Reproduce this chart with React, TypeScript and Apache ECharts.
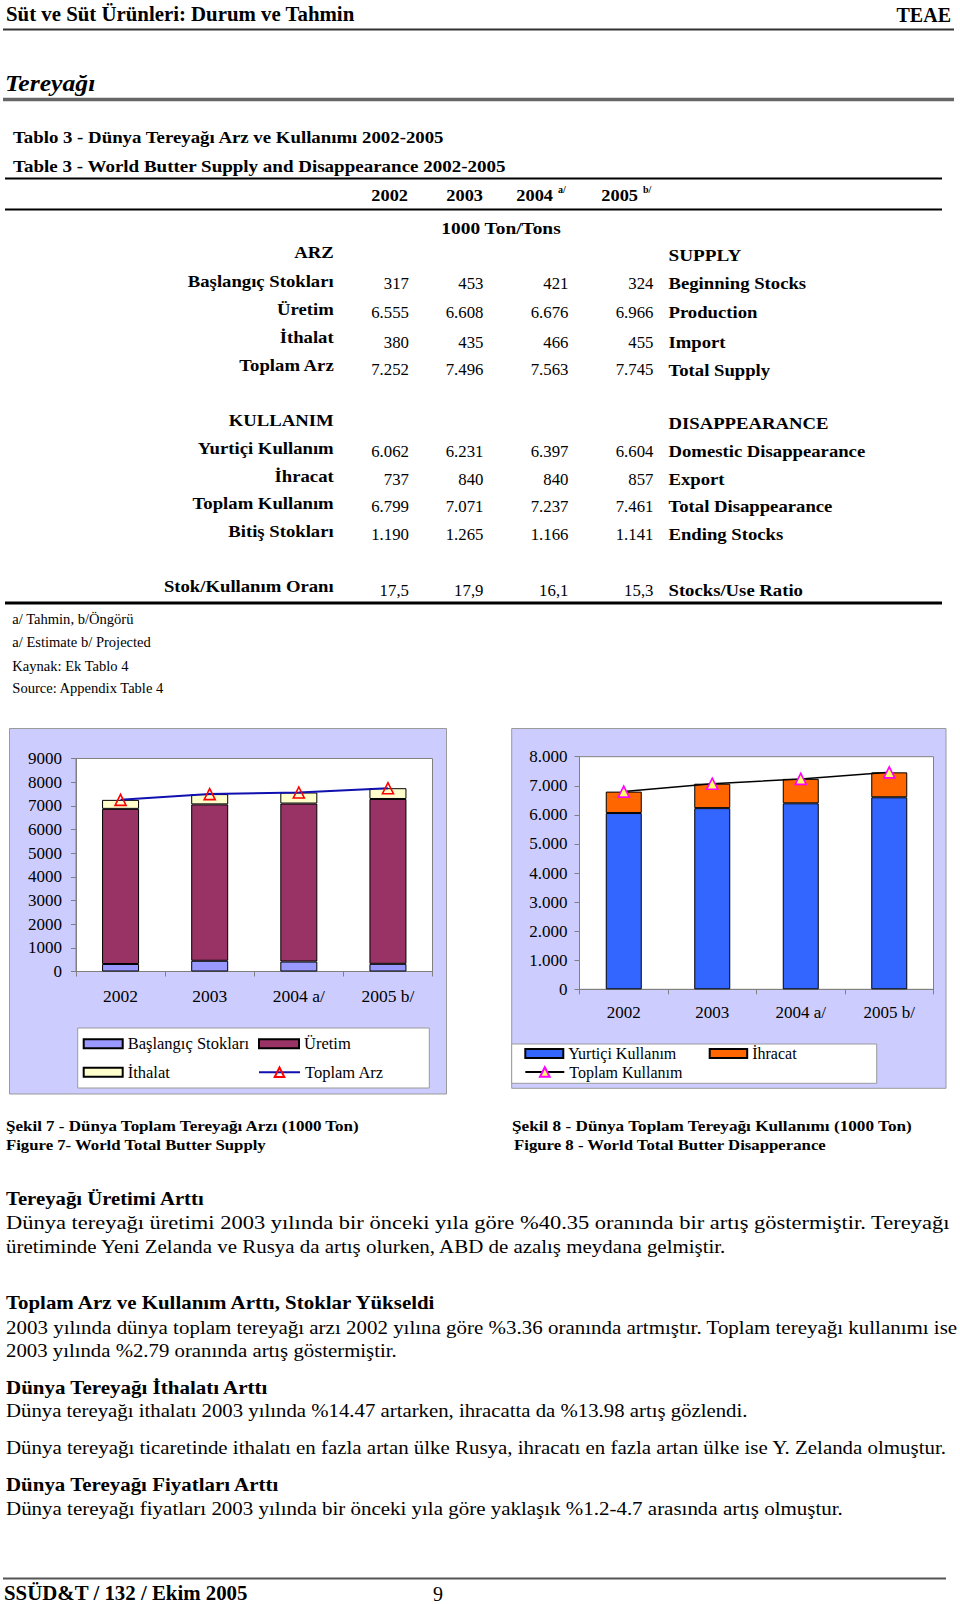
import React, { useEffect, useRef } from 'react';
import * as echarts from 'echarts';

const FONT = 'Liberation Serif';

// ---- data ----
const years = ['2002', '2003', '2004 a/', '2005 b/'];
const headerYears = ['2002', '2003', '2004', '2005'];
const headerMarks = ['', '', 'a/', 'b/'];
const beginningStocks = [317, 453, 421, 324];
const production = [6555, 6608, 6676, 6966];
const imports = [380, 435, 466, 455];
const totalSupply = [7252, 7496, 7563, 7745];
const domesticUse = [6062, 6231, 6397, 6604];
const exportsData = [737, 840, 840, 857];
const totalUse = [6799, 7071, 7237, 7461];
const endingStocks = [1190, 1265, 1166, 1141];
const stockUseRatio = [17.5, 17.9, 16.1, 15.3];

const supplyRowsTr = ['Başlangıç Stokları', 'Üretim', 'İthalat', 'Toplam Arz'];
const supplyRowsEn = ['Beginning Stocks', 'Production', 'Import', 'Total Supply'];
const useRowsTr = ['Yurtiçi Kullanım', 'İhracat', 'Toplam Kullanım', 'Bitiş Stokları'];
const useRowsEn = ['Domestic Disappearance', 'Export', 'Total Disappearance', 'Ending Stocks'];
const footnotes = ['a/ Tahmin, b/Öngörü', 'a/ Estimate b/ Projected', 'Kaynak: Ek Tablo 4', 'Source: Appendix Table 4'];

const paragraphLines = [
  { t: 'Tereyağı Üretimi Arttı', bold: true, y: 1198.5, w: 199 },
  { t: 'Dünya tereyağı üretimi 2003 yılında bir önceki yıla göre %40.35 oranında bir artış göstermiştir. Tereyağı', bold: false, y: 1223, w: 944 },
  { t: 'üretiminde Yeni Zelanda ve Rusya da artış olurken, ABD de azalış meydana gelmiştir.', bold: false, y: 1246.6, w: 722 },
  { t: 'Toplam Arz ve Kullanım Arttı, Stoklar Yükseldi', bold: true, y: 1302.8, w: 432 },
  { t: '2003 yılında dünya toplam tereyağı arzı 2002 yılına göre %3.36 oranında artmıştır. Toplam tereyağı kullanımı ise', bold: false, y: 1327, w: 952 },
  { t: '2003 yılında %2.79 oranında artış göstermiştir.', bold: false, y: 1350.5, w: 391 },
  { t: 'Dünya Tereyağı İthalatı Arttı', bold: true, y: 1387, w: 263 },
  { t: 'Dünya tereyağı ithalatı 2003 yılında %14.47 artarken, ihracatta da %13.98 artış gözlendi.', bold: false, y: 1410.8, w: 742 },
  { t: 'Dünya tereyağı ticaretinde ithalatı en fazla artan ülke Rusya, ihracatı en fazla artan ülke ise Y. Zelanda olmuştur.', bold: false, y: 1447.6, w: 941 },
  { t: 'Dünya Tereyağı Fiyatları Arttı', bold: true, y: 1484, w: 274 },
  { t: 'Dünya tereyağı fiyatları 2003 yılında bir önceki yıla göre yaklaşık %1.2-4.7 arasında artış olmuştur.', bold: false, y: 1508, w: 837 },
];

const fmtDot = (n: number) => String(n).replace(/\B(?=(\d{3})+(?!\d))/g, '.');
const fmtComma = (n: number) => n.toFixed(1).replace('.', ',');

export default function App() {
  const ref = useRef<HTMLDivElement>(null);

  useEffect(() => {
    if (!ref.current) return;
    document.body.style.margin = '0';
    const chart = echarts.init(ref.current, undefined, { renderer: 'svg' });

    const ctx = document.createElement('canvas').getContext('2d') as CanvasRenderingContext2D;
    const measure = (t: string, size: number, bold: boolean, italic: boolean) => {
      ctx.font = `${italic ? 'italic ' : ''}${bold ? 'bold ' : ''}${size}px "${FONT}"`;
      return ctx.measureText(t).width;
    };

    type TO = { size: number; bold?: boolean; italic?: boolean; align?: string; w?: number; sx?: number };
    const txt = (text: string, x: number, y: number, o: TO) => {
      let sx = o.sx || 1;
      if (o.w) {
        const m = measure(text, o.size, !!o.bold, !!o.italic);
        if (m > 0) sx = Math.max(0.8, Math.min(1.25, o.w / m));
      }
      const align = o.align || 'left';
      return {
        type: 'text',
        x,
        y,
        scaleX: sx,
        z: 10,
        silent: true,
        style: {
          text,
          fill: '#000',
          fontSize: o.size,
          fontFamily: FONT,
          fontWeight: o.bold ? 'bold' : 'normal',
          fontStyle: o.italic ? 'italic' : 'normal',
          textAlign: align,
          align,
          textVerticalAlign: 'middle',
          verticalAlign: 'middle',
        },
      };
    };
    const hline = (x1: number, x2: number, y: number, lw: number, color: string) => ({
      type: 'line',
      z: 10,
      silent: true,
      shape: { x1, y1: y, x2, y2: y },
      style: { stroke: color, lineWidth: lw },
    });
    const box = (x: number, y: number, w: number, h: number, fill: string, z: number) => ({
      type: 'rect',
      z,
      silent: true,
      shape: { x, y, width: w, height: h },
      style: { fill, stroke: '#9a9a9a', lineWidth: 1 },
    });

    const BSX = 1.1; // table bold text width factor
    const VSX = 1.05; // table value width factor

    const els: any[] = [];
    // page header
    els.push(txt('Süt ve Süt Ürünleri: Durum ve Tahmin', 6, 14.5, { size: 20, bold: true, w: 349 }));
    els.push(txt('TEAE', 951, 14.5, { size: 20, bold: true, align: 'right' }));
    els.push(hline(3, 954, 29.5, 2, '#333'));
    els.push(txt('Tereyağı', 5, 82.7, { size: 24, bold: true, italic: true, sx: 1.07 }));
    els.push(hline(3, 954, 99.5, 3.5, '#666'));

    // table titles
    els.push(txt('Tablo 3 - Dünya Tereyağı Arz ve Kullanımı 2002-2005', 13, 137.5, { size: 17, bold: true, w: 432 }));
    els.push(txt('Table 3 - World Butter Supply and Disappearance 2002-2005', 13, 166.8, { size: 17, bold: true, w: 494 }));
    els.push(hline(5, 942, 178.5, 2, '#000'));

    const valueRight = [409, 483.5, 568.5, 653.5];
    const yearRight = [408, 483, 553, 638];
    headerYears.forEach((yv, i) => {
      els.push(txt(yv, yearRight[i], 195, { size: 17, bold: true, align: 'right', sx: 1.08 }));
      if (headerMarks[i]) els.push(txt(headerMarks[i], yearRight[i] + 5, 189, { size: 10, bold: true }));
    });
    els.push(hline(5, 942, 209.5, 2, '#000'));
    els.push(txt('1000 Ton/Tons', 501, 228.3, { size: 17, bold: true, align: 'center', sx: 1.14 }));

    const labelRight = 333.7;
    const enLeft = 668.5;
    els.push(txt('ARZ', labelRight, 252.7, { size: 17, bold: true, align: 'right', sx: BSX }));
    els.push(txt('SUPPLY', enLeft, 255.7, { size: 17, bold: true, sx: 1.13 }));
    const supplyLabelY = [281, 309, 337.7, 365.7];
    const supplyValY = [283.3, 312.7, 342.3, 370];
    const supplyVals = [beginningStocks, production, imports, totalSupply];
    supplyRowsTr.forEach((lab, r) => {
      els.push(txt(lab, labelRight, supplyLabelY[r], { size: 17, bold: true, align: 'right', sx: BSX }));
      els.push(txt(supplyRowsEn[r], enLeft, supplyValY[r], { size: 17, bold: true, sx: BSX }));
      supplyVals[r].forEach((v, i) => els.push(txt(fmtDot(v), valueRight[i], supplyValY[r], { size: 16, align: 'right', sx: VSX })));
    });

    els.push(txt('KULLANIM', labelRight, 420.7, { size: 17, bold: true, align: 'right', sx: BSX }));
    els.push(txt('DISAPPEARANCE', enLeft, 423.3, { size: 17, bold: true, sx: BSX }));
    const useLabelY = [448.3, 476.3, 503.5, 531.5];
    const useValY = [451.7, 479.3, 506.7, 534.3];
    const useVals = [domesticUse, exportsData, totalUse, endingStocks];
    useRowsTr.forEach((lab, r) => {
      els.push(txt(lab, labelRight, useLabelY[r], { size: 17, bold: true, align: 'right', sx: BSX }));
      els.push(txt(useRowsEn[r], enLeft, useValY[r], { size: 17, bold: true, sx: BSX }));
      useVals[r].forEach((v, i) => els.push(txt(fmtDot(v), valueRight[i], useValY[r], { size: 16, align: 'right', sx: VSX })));
    });

    els.push(txt('Stok/Kullanım Oranı', labelRight, 586.7, { size: 17, bold: true, align: 'right', sx: BSX }));
    stockUseRatio.forEach((v, i) => els.push(txt(fmtComma(v), valueRight[i], 590.3, { size: 16, align: 'right', sx: VSX })));
    els.push(txt('Stocks/Use Ratio', enLeft, 590.7, { size: 17, bold: true, sx: BSX }));
    els.push(hline(5, 942, 603, 3, '#000'));

    const footY = [619.3, 642, 665.8, 688.5];
    footnotes.forEach((f, i) => els.push(txt(f, 12.3, footY[i], { size: 14, sx: 1.04 })));

    // chart frames
    els.push(box(9.5, 728.5, 437, 365.5, '#CCCCFF', -20));
    els.push(box(77.7, 1028, 351.6, 60, '#FFFFFF', -10));
    els.push(box(511.7, 728.5, 434.3, 359.8, '#CCCCFF', -20));
    els.push(box(511.7, 1044, 365, 39.3, '#FFFFFF', -10));

    // captions
    els.push(txt('Şekil 7 - Dünya Toplam Tereyağı Arzı (1000 Ton)', 6, 1125.5, { size: 15, bold: true, w: 355 }));
    els.push(txt('Figure 7- World Total Butter Supply', 6, 1145, { size: 15, bold: true, w: 261 }));
    els.push(txt('Şekil 8 - Dünya Toplam Tereyağı Kullanımı (1000 Ton)', 512, 1125.5, { size: 15, bold: true, w: 401 }));
    els.push(txt('Figure 8 - World Total Butter Disapperance', 514, 1145, { size: 15, bold: true, w: 313 }));

    // paragraphs
    paragraphLines.forEach((p) => els.push(txt(p.t, 6, p.y, { size: 19, bold: p.bold, w: p.w })));

    // footer
    els.push(hline(3, 946, 1578.5, 2, '#555'));
    els.push(txt('SSÜD&T / 132 / Ekim 2005', 4, 1593.5, { size: 20, bold: true, w: 244 }));
    els.push(txt('9', 438, 1593.5, { size: 20, align: 'center' }));

    const axisLine = { show: true, lineStyle: { color: '#808080', width: 1 } };
    const axisTick = { show: true, length: 5, lineStyle: { color: '#808080', width: 1 } };
    const labelBase = { color: '#000', fontFamily: FONT, fontSize: 17 };

    const legendText = (fs: number, lh: number) => ({ fontFamily: FONT, fontSize: fs, color: '#000', lineHeight: lh });
    const barLegend = (name: string, left: number, cy: number, w: number, fs: number, lh: number) => ({
      data: [name], left, top: cy - lh / 2, padding: 0, itemGap: 0, icon: 'rect',
      itemWidth: w, itemHeight: 9, textStyle: legendText(fs, lh), selectedMode: false,
    });
    const lineLegend = (name: string, left: number, cy: number, w: number, fs: number, lh: number) => ({
      data: [name], left, top: cy - lh / 2, padding: 0, itemGap: 0,
      itemWidth: w, itemHeight: 12, textStyle: legendText(fs, lh), selectedMode: false,
    });

    const barStyle = (c: string) => ({ color: c, borderColor: '#000', borderWidth: 1 });

    const option: any = {
      animation: false,
      backgroundColor: '#ffffff',
      textStyle: { fontFamily: FONT },
      grid: [
        { left: 76, top: 758.5, width: 356.5, height: 213, show: true, backgroundColor: '#fff', borderColor: '#808080', borderWidth: 1 },
        { left: 579.5, top: 756.7, width: 354, height: 232.6, show: true, backgroundColor: '#fff', borderColor: '#808080', borderWidth: 1 },
      ],
      xAxis: [
        { type: 'category', gridIndex: 0, data: years, axisLine, axisTick, axisLabel: { ...labelBase, fontSize: 17.5, margin: 15 } },
        { type: 'category', gridIndex: 1, data: years, axisLine, axisTick, axisLabel: { ...labelBase, margin: 15 } },
      ],
      yAxis: [
        { type: 'value', gridIndex: 0, min: 0, max: 9000, interval: 1000, axisLine, axisTick, splitLine: { show: false }, axisLabel: { ...labelBase, margin: 14, formatter: (v: number) => String(v) } },
        { type: 'value', gridIndex: 1, min: 0, max: 8000, interval: 1000, axisLine, axisTick, splitLine: { show: false }, axisLabel: { ...labelBase, margin: 12, formatter: (v: number) => fmtDot(v) } },
      ],
      legend: [
        barLegend('Başlangıç Stokları', 82.7, 1043.3, 39, 16.5, 16),
        barLegend('Üretim', 258, 1043.3, 40, 16.5, 16),
        barLegend('İthalat', 82.7, 1071.7, 39, 16.5, 16),
        lineLegend('Toplam Arz', 258, 1071.7, 41, 16.5, 16),
        barLegend('Yurtiçi Kullanım', 524.3, 1053.5, 38, 16, 16),
        barLegend('İhracat', 708.7, 1053.5, 37.5, 16, 16),
        lineLegend('Toplam Kullanım', 524.3, 1072, 39, 16, 16),
      ],
      series: [
        { name: 'Başlangıç Stokları', type: 'bar', stack: 'supply', xAxisIndex: 0, yAxisIndex: 0, barWidth: 37, data: beginningStocks, itemStyle: barStyle('#9999FF') },
        { name: 'Üretim', type: 'bar', stack: 'supply', xAxisIndex: 0, yAxisIndex: 0, barWidth: 37, data: production, itemStyle: barStyle('#993366') },
        { name: 'İthalat', type: 'bar', stack: 'supply', xAxisIndex: 0, yAxisIndex: 0, barWidth: 37, data: imports, itemStyle: barStyle('#FFFFCC') },
        {
          name: 'Toplam Arz', type: 'line', xAxisIndex: 0, yAxisIndex: 0, data: totalSupply, z: 5,
          symbol: 'triangle', symbolSize: 11, showSymbol: true,
          lineStyle: { color: '#1010B0', width: 2 },
          itemStyle: { color: 'rgba(255,255,255,0)', borderColor: '#FF0000', borderWidth: 1.6 },
        },
        { name: 'Yurtiçi Kullanım', type: 'bar', stack: 'use', xAxisIndex: 1, yAxisIndex: 1, barWidth: 36, data: domesticUse, itemStyle: barStyle('#3366FF') },
        { name: 'İhracat', type: 'bar', stack: 'use', xAxisIndex: 1, yAxisIndex: 1, barWidth: 36, data: exportsData, itemStyle: barStyle('#FF6600') },
        {
          name: 'Toplam Kullanım', type: 'line', xAxisIndex: 1, yAxisIndex: 1, data: totalUse, z: 5,
          symbol: 'triangle', symbolSize: 11, showSymbol: true,
          lineStyle: { color: '#000', width: 1.5 },
          itemStyle: { color: '#FFFF66', borderColor: '#FF00FF', borderWidth: 1.6 },
        },
      ],
      graphic: { elements: els },
    };

    chart.setOption(option);
    return () => chart.dispose();
  }, []);

  return <div ref={ref} style={{ position: 'absolute', left: 0, top: 0, width: 960, height: 1604 }} />;
}
